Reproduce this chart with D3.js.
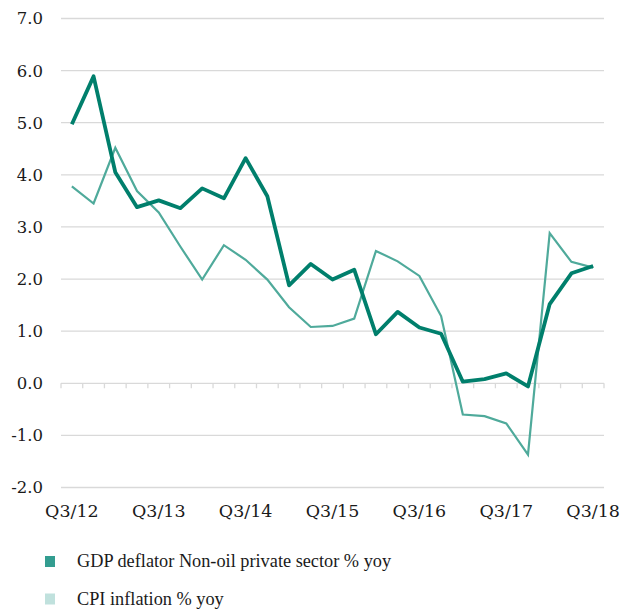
<!DOCTYPE html>
<html>
<head>
<meta charset="utf-8">
<script src="https://cdn.jsdelivr.net/npm/d3@7"></script>
<style>
  html, body { margin: 0; padding: 0; background: #ffffff; }
  svg { display: block; }
</style>
</head>
<body>
<svg id="chart" width="633" height="609"></svg>
<script>
// Quarterly periods, Q3/12 through Q3/18
const quarters = [
  "Q3/12","Q4/12","Q1/13","Q2/13","Q3/13","Q4/13","Q1/14","Q2/14","Q3/14",
  "Q4/14","Q1/15","Q2/15","Q3/15","Q4/15","Q1/16","Q2/16","Q3/16","Q4/16",
  "Q1/17","Q2/17","Q3/17","Q4/17","Q1/18","Q2/18","Q3/18"
];

// GDP deflator, non-oil private sector, % yoy
const gdpDeflator = [
  4.97, 5.89, 4.05, 3.38, 3.51, 3.36, 3.74, 3.55, 4.32,
  3.59, 1.88, 2.29, 1.99, 2.18, 0.94, 1.37, 1.07, 0.95,
  0.03, 0.08, 0.19, -0.06, 1.52, 2.11, 2.25
];

// CPI inflation, % yoy
const cpiInflation = [
  3.78, 3.45, 4.52, 3.69, 3.28, 2.62, 1.99, 2.65, 2.37,
  1.99, 1.46, 1.08, 1.10, 1.24, 2.54, 2.34, 2.06, 1.29,
  -0.60, -0.63, -0.77, -1.37, 2.88, 2.33, 2.22
];

const yTicks = [-2, -1, 0, 1, 2, 3, 4, 5, 6, 7];
const xLabels = ["Q3/12","Q3/13","Q3/14","Q3/15","Q3/16","Q3/17","Q3/18"];

const legendItems = [
  { label: "GDP deflator Non-oil private sector % yoy", swatch: "#339d90" },
  { label: "CPI inflation % yoy", swatch: "#c0e1dd" }
];

const svg = d3.select("#chart");
const serif = "'DejaVu Serif', serif";

const x = d3.scaleBand().domain(quarters).range([61, 604]).padding(0);
const y = d3.scaleLinear().domain([-2, 7]).range([487.5, 18.5]);
const cx = q => x(q) + x.bandwidth() / 2;

// Horizontal gridlines (zero line drawn separately as the category axis)
svg.append("g")
  .selectAll("line")
  .data(yTicks.filter(v => v !== 0))
  .join("line")
  .attr("x1", 61).attr("x2", 604)
  .attr("y1", d => y(d)).attr("y2", d => y(d))
  .attr("stroke", "#d9d9d9").attr("stroke-width", 1.3);

// Value axis labels (plain hyphen for negatives)
svg.append("g")
  .selectAll("text")
  .data(yTicks)
  .join("text")
  .attr("x", 43)
  .attr("y", d => y(d))
  .attr("dy", "0.36em")
  .attr("text-anchor", "end")
  .attr("font-family", serif)
  .attr("font-size", 16.5)
  .attr("fill", "#1a1a1a")
  .text(d => d.toFixed(1));

// Category axis along zero, with tick marks on band boundaries
const axisG = svg.append("g").attr("transform", `translate(0,${y(0)})`);
axisG.append("line")
  .attr("x1", 61).attr("x2", 604)
  .attr("stroke", "#d9d9d9").attr("stroke-width", 1.3);
const boundaries = quarters.map(q => x(q)).concat([x.range()[1]]);
axisG.selectAll("line.tick")
  .data(boundaries)
  .join("line")
  .attr("class", "tick")
  .attr("x1", d => d).attr("x2", d => d)
  .attr("y1", 0).attr("y2", 5)
  .attr("stroke", "#d9d9d9").attr("stroke-width", 1.3);

// Category labels below the plot
svg.append("g")
  .selectAll("text")
  .data(xLabels)
  .join("text")
  .attr("x", d => cx(d))
  .attr("y", 517)
  .attr("text-anchor", "middle")
  .attr("font-family", serif)
  .attr("font-size", 17.5)
  .attr("fill", "#1a1a1a")
  .text(d => d);

// Series lines
const line = d3.line()
  .x((d, i) => cx(quarters[i]))
  .y(d => y(d));

svg.append("path")
  .datum(cpiInflation)
  .attr("d", line)
  .attr("fill", "none")
  .attr("stroke", "#4faa9b")
  .attr("stroke-width", 2.2)
  .attr("stroke-linejoin", "miter");

svg.append("path")
  .datum(gdpDeflator)
  .attr("d", line)
  .attr("fill", "none")
  .attr("stroke", "#007f6c")
  .attr("stroke-width", 3.8)
  .attr("stroke-linejoin", "round");

// Legend
const legend = svg.append("g");
legendItems.forEach((item, i) => {
  const yy = 556 + i * 37.5;
  legend.append("rect")
    .attr("x", 45).attr("y", yy)
    .attr("width", 10).attr("height", 11)
    .attr("fill", item.swatch);
  legend.append("text")
    .attr("x", 77).attr("y", yy + 11)
    .attr("font-family", "'Liberation Serif', serif")
    .attr("font-size", 18.3)
    .attr("fill", "#1a1a1a")
    .text(item.label);
});
</script>
</body>
</html>
